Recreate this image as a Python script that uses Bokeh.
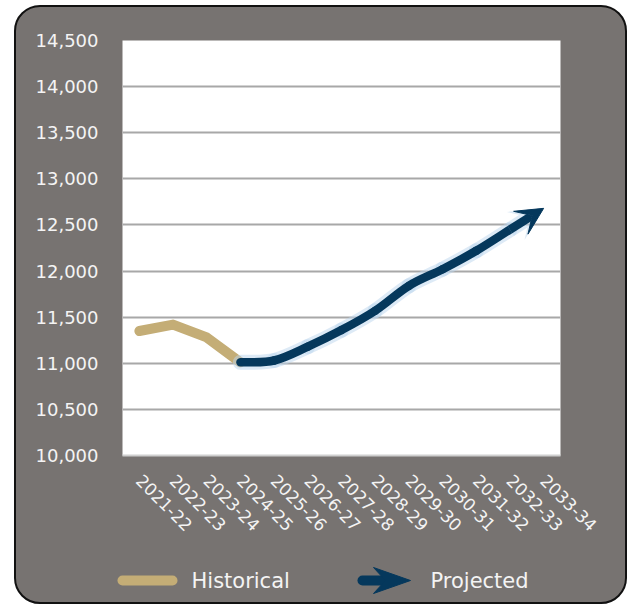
import math

from bokeh.plotting import figure
from bokeh.layouts import column
from bokeh.models import Range1d, FixedTicker, NumeralTickFormatter, Arrow, VeeHead
from bokeh.core.properties import value
from bokeh.embed import file_html
from bokeh.resources import INLINE

# School years on the horizontal axis
years = ["2021-22", "2022-23", "2023-24", "2024-25", "2025-26", "2026-27", "2027-28",
         "2028-29", "2029-30", "2030-31", "2031-32", "2032-33", "2033-34"]

# Historical series
hist_years = ["2021-22", "2022-23", "2023-24", "2024-25"]
hist_values = [11350, 11420, 11280, 11010]

# Projected series
proj_years = ["2024-25", "2025-26", "2026-27", "2027-28", "2028-29", "2029-30",
              "2030-31", "2031-32", "2032-33", "2033-34"]
proj_values = [11010, 11030, 11180, 11360, 11570, 11840, 12020, 12220, 12450, 12680]

y_ticks = [10000, 10500, 11000, 11500, 12000, 12500, 13000, 13500, 14000, 14500]

legend_labels = ["Historical", "Projected"]

BG = "#777371"
TAN = "#c4ad76"
NAVY = "#05385c"
GLOW = "#bcd5ee"
TEXT = "#f4f4f4"
FONT = "DejaVu Sans"

W = 609

xpos = {yr: i for i, yr in enumerate(years)}

p = figure(
    width=W, height=548,
    x_range=Range1d(-0.5, len(years) - 0.5),
    y_range=Range1d(10000, 14500),
    output_backend="svg", toolbar_location=None,
    min_border_left=106, min_border_right=65, min_border_top=33, min_border_bottom=100,
    background_fill_color="white", border_fill_alpha=0, outline_line_color=None,
)

# Axes
p.xaxis.ticker = FixedTicker(ticks=list(range(len(years))))
p.xaxis.major_label_overrides = {i: yr for i, yr in enumerate(years)}
p.xaxis.major_label_orientation = -math.pi / 4
p.xaxis.major_label_text_font = FONT
p.xaxis.major_label_text_font_size = "17px"
p.xaxis.major_label_text_color = TEXT
p.xaxis.major_label_standoff = 16
p.xaxis.major_tick_line_color = None
p.xaxis.minor_tick_line_color = None
p.xaxis.axis_line_color = "#cfcfcf"
p.xaxis.axis_line_width = 2

p.yaxis.ticker = FixedTicker(ticks=y_ticks)
p.yaxis.formatter = NumeralTickFormatter(format="0,0")
p.yaxis.major_label_text_font = FONT
p.yaxis.major_label_text_font_size = "18px"
p.yaxis.major_label_text_color = TEXT
p.yaxis.major_label_standoff = 18
p.yaxis.major_tick_line_color = None
p.yaxis.minor_tick_line_color = None
p.yaxis.axis_line_color = None

p.xgrid.grid_line_color = None
p.ygrid.ticker = FixedTicker(ticks=y_ticks[1:-1])
p.ygrid.grid_line_color = "#a8a8a8"
p.ygrid.grid_line_width = 2

# Historical line
p.line([xpos[y] for y in hist_years], hist_values, line_color=TAN, line_width=10,
       line_cap="round", line_join="round")

# Projected line: smooth Catmull-Rom curve through the projected values
px = [xpos[y] for y in proj_years]
py = proj_values
n = len(px)


def pt(i):
    i = max(0, min(n - 1, i))
    return px[i], py[i]


seg = dict(x0=[], y0=[], x1=[], y1=[], cx0=[], cy0=[], cx1=[], cy1=[])
for i in range(n - 2):
    xa, ya = pt(i - 1)
    xb, yb = pt(i)
    xc, yc = pt(i + 1)
    xd, yd = pt(i + 2)
    seg["x0"].append(xb); seg["y0"].append(yb)
    seg["x1"].append(xc); seg["y1"].append(yc)
    seg["cx0"].append(xb + (xc - xa) / 6); seg["cy0"].append(yb + (yc - ya) / 6)
    seg["cx1"].append(xc - (xd - xb) / 6); seg["cy1"].append(yc - (yd - yb) / 6)

# soft halo under the projected line
p.bezier(line_color=GLOW, line_width=15, line_alpha=0.5, line_cap="round", **seg)
p.add_layout(Arrow(end=VeeHead(size=33, fill_color=GLOW, fill_alpha=0.5, line_color=None),
                   x_start=px[-2], y_start=py[-2], x_end=px[-1], y_end=py[-1],
                   line_color=GLOW, line_width=15, line_alpha=0.5))
p.bezier(line_color=NAVY, line_width=8.5, line_cap="round", **seg)
p.add_layout(Arrow(end=VeeHead(size=27, fill_color=NAVY, line_color=NAVY, line_width=1),
                   x_start=px[-2], y_start=py[-2], x_end=px[-1], y_end=py[-1],
                   line_color=NAVY, line_width=8.5))

# Legend strip beneath the chart (coordinates are pixels of the strip)
lg = figure(width=W, height=47, x_range=Range1d(0, W), y_range=Range1d(0, 47),
            x_axis_type=None, y_axis_type=None,
            output_backend="svg", toolbar_location=None,
            min_border=0, min_border_left=0, min_border_right=0,
            min_border_top=0, min_border_bottom=0,
            background_fill_alpha=0, border_fill_alpha=0, outline_line_color=None)
lg.grid.visible = False
lg.line([106, 156], [22, 22], line_color=TAN, line_width=10, line_cap="round")
lg.text([175], [22], text=[legend_labels[0]], text_font=value(FONT), text_font_size="21px",
        text_color=TEXT, text_baseline="middle")
lg.line([346, 372], [22, 22], line_color=NAVY, line_width=10, line_cap="round")
lg.patch([394, 357, 369, 357], [22, 35, 22, 9], fill_color=NAVY, line_color=NAVY, line_width=1)
lg.text([414], [22], text=[legend_labels[1]], text_font=value(FONT), text_font_size="21px",
        text_color=TEXT, text_baseline="middle")

# keep the strip's frame independent of the chart's frame
for fig in (p, lg):
    if "frame_align" in fig.properties():
        fig.frame_align = False

layout = column(
    p, lg, spacing=0,
    styles={
        "margin-left": "14px", "margin-top": "5px",
        "background-color": BG,
        "border": "2px solid #111111",
        "border-radius": "26px",
    },
)

open("out.html", "w").write(file_html(layout, INLINE))
